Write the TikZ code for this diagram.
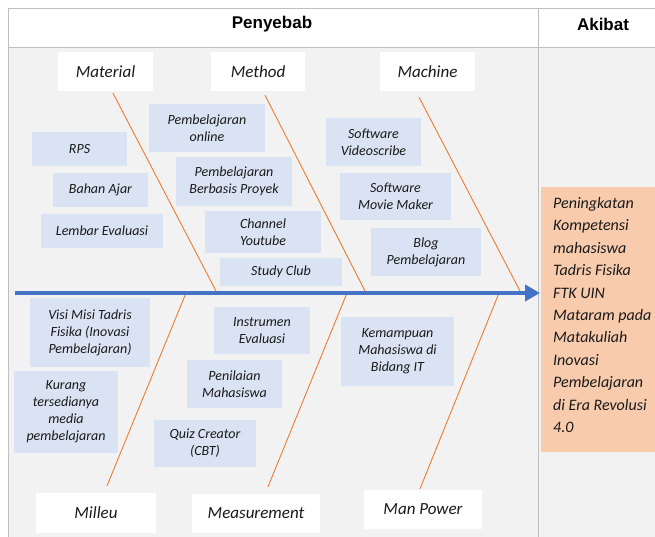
\documentclass[tikz,border=0pt]{standalone}
\usepackage{fontspec}
\setmainfont{Carlito}
\newfontfamily\hdrfont{Liberation Sans}
\usetikzlibrary{arrows.meta}
\definecolor{bodygray}{HTML}{F2F2F2}
\definecolor{gridgray}{HTML}{BFBFBF}
\definecolor{boxblue}{HTML}{DAE3F3}
\definecolor{akibatfill}{HTML}{F8CBAD}
\definecolor{bonecol}{HTML}{ED7D31}
\definecolor{spinecol}{HTML}{4472C4}
\definecolor{txt}{HTML}{1A1A1A}
\begin{document}
\begin{tikzpicture}[x=1pt,y=-1pt,
  hdr/.style={font=\hdrfont\bfseries\fontsize{17}{20}\selectfont, text=black, inner sep=0},
  cat/.style={fill=white, font=\fontsize{17}{20}\selectfont\itshape, text=txt, inner sep=0, minimum height=39pt},
  cause/.style={fill=boxblue, font=\fontsize{14}{17}\selectfont\itshape, text=txt, align=center, inner sep=0},
  boneline/.style={draw=bonecol, line width=0.9pt},
  grid/.style={draw=gridgray, line width=1pt}]
\useasboundingbox (0,0) rectangle (655,537);
\fill[white] (0,0) rectangle (655,537);
\fill[bodygray] (8,48) rectangle (655,537);
\draw[grid] (655,9) -- (8,9) -- (8,537);
\draw[grid] (8,48) -- (655,48);
\draw[grid] (538,9) -- (538,537);
\node[hdr] (hpen) at (272,24.5) {Penyebab};
\node[hdr] (hak) at (603,24.5) {Akibat};

% category labels
\node[cat, minimum width=95pt] (material) at (105.5,71.5) {Material};
\node[cat, minimum width=94pt] (method) at (258,71.5) {Method};
\node[cat, minimum width=95pt] (machine) at (427.5,71.5) {Machine};
\node[cat, minimum width=120pt, minimum height=40pt] (milleu) at (96,513) {Milleu};
\node[cat, minimum width=128pt] (measure) at (256,513.5) {Measurement};
\node[cat, minimum width=118pt] (manpower) at (423,509.5) {Man Power};

% junctions on the spine
\coordinate (jmat) at (216,291);
\coordinate (jmet) at (365,291);
\coordinate (jmac) at (520,291);
\coordinate (jmil) at (186,293);
\coordinate (jmea) at (347,293);
\coordinate (jman) at (499,293);

\draw[boneline] ([xshift=7.5pt,yshift=-2pt]material.south) -- (jmat);
\draw[boneline] ([xshift=7pt,yshift=-4pt]method.south) -- (jmet);
\draw[boneline] ([xshift=-8.5pt,yshift=-6pt]machine.south) -- (jmac);
\draw[boneline] ([xshift=11pt,yshift=7pt]milleu.north) -- (jmil);
\draw[boneline] ([xshift=12pt,yshift=7pt]measure.north) -- (jmea);
\draw[boneline] ([xshift=-3pt,yshift=1pt]manpower.north) -- (jman);

% spine
\coordinate (tail) at (15,293);
\coordinate (tip) at (540,293);
\draw[spinecol, line width=4pt, -{Triangle[length=15pt,width=16pt]}] (tail) -- (tip);

% cause boxes
\node[cause, minimum width=95pt, minimum height=34pt] (rps) at (79.5,149) {RPS};
\node[cause, minimum width=95pt, minimum height=34pt] (bahan) at (100.5,190) {Bahan Ajar};
\node[cause, minimum width=122pt, minimum height=34pt] (lembar) at (102,231) {Lembar Evaluasi};
\node[cause, minimum width=116pt, minimum height=48pt] (online) at (207,128) {Pembelajaran\\online};
\node[cause, minimum width=116pt, minimum height=49pt] (proyek) at (234,181.5) {Pembelajaran\\Berbasis Proyek};
\node[cause, minimum width=116pt, minimum height=42pt] (youtube) at (263,232) {Channel\\Youtube};
\node[cause, minimum width=122pt, minimum height=28pt] (study) at (281,272) {Study Club};
\node[cause, minimum width=95pt, minimum height=48pt] (video) at (373.5,142) {Software\\Videoscribe};
\node[cause, minimum width=111pt, minimum height=47pt] (movie) at (395.5,196.5) {Software\\Movie Maker};
\node[cause, minimum width=110pt, minimum height=48pt] (blog) at (426,252) {Blog\\Pembelajaran};
\node[cause, minimum width=120pt, minimum height=69pt] (visi) at (90,332.5) {Visi Misi Tadris\\Fisika (Inovasi\\Pembelajaran)};
\node[cause, minimum width=104pt, minimum height=82pt] (kurang) at (66,412) {Kurang\\tersedianya\\media\\pembelajaran};
\node[cause, minimum width=96pt, minimum height=47pt] (instr) at (262,330.5) {Instrumen\\Evaluasi};
\node[cause, minimum width=95pt, minimum height=48pt] (nilai) at (234.5,384) {Penilaian\\Mahasiswa};
\node[cause, minimum width=102pt, minimum height=47pt] (quiz) at (205,443.5) {Quiz Creator\\(CBT)};
\node[cause, minimum width=113pt, minimum height=69pt] (kemampuan) at (397.5,351.5) {Kemampuan\\Mahasiswa di\\Bidang IT};

% effect
\node[fill=akibatfill, anchor=north west, inner sep=0pt, minimum width=114pt,
  minimum height=265pt] (effectbox) at (541,187) {};
\node[anchor=west, inner sep=0pt, align=left, text=txt,
  font=\fontsize{16}{22.4}\selectfont\itshape] (effect) at (553,315)
  {Peningkatan\\Kompetensi\\mahasiswa\\Tadris Fisika\\FTK UIN\\Mataram pada\\Matakuliah\\Inovasi\\Pembelajaran\\di Era Revolusi\\4.0};
\end{tikzpicture}
\end{document}
